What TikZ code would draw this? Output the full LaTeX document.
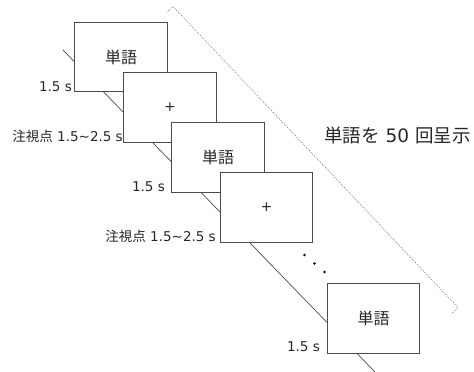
\documentclass[tikz,border=0pt]{standalone}
\usepackage{fontspec}
\setmainfont{DejaVu Sans}
\newfontfamily\jpfont{Noto Sans CJK JP}
\begin{document}
\begin{tikzpicture}[x=1pt,y=-1pt,
  frame/.style={draw=black!70, line width=0.8pt, fill=white,
    minimum width=92.5pt, minimum height=69.5pt, inner sep=0pt},
  word/.style={font=\jpfont\fontsize{16}{16}\selectfont, text=black!85},
  plussign/.style={font=\fontsize{14}{14}\selectfont, text=black!85},
  tlabel/.style={anchor=base east, inner sep=0pt,
    font=\fontsize{13.5}{14}\selectfont, text=black!85},
  timeline/.style={draw=black!70, line width=0.7pt},
  bracket/.style={draw=black!55, line width=0.6pt, dash pattern=on 1pt off 1.3pt},
  dot/.style={circle, fill=black, inner sep=0pt, minimum size=2.8pt},
  bigtext/.style={font=\fontsize{18.5}{19}\selectfont, text=black!85, inner sep=0pt}]
\useasboundingbox (0,0) rectangle (474,372);
% timeline behind the frames
\coordinate (t0) at (63,50);
\coordinate (t1) at (375,372);
\draw[timeline] (t0) -- (t1);
% frames
\node[frame, word] (b1) at (121,57) {単語};
\node[frame, plussign] (b2) at (170,107.5) {+};
\node[frame, word] (b3) at (218,157.5) {単語};
\node[frame, plussign] (b4) at (266.5,207.5) {+};
\node[frame, word] (b5) at (373.5,318.5) {単語};
% duration labels
\node[tlabel] (l1) at (72,91.5) {1.5 s};
\node[tlabel] (l2) at (123,141.5) {{\jpfont 注視点} 1.5\textasciitilde 2.5 s};
\node[tlabel] (l3) at (165,191.5) {1.5 s};
\node[tlabel] (l4) at (216,241.5) {{\jpfont 注視点} 1.5\textasciitilde 2.5 s};
\node[tlabel] (l5) at (320,351.5) {1.5 s};
% ellipsis dots
\node[dot] (d1) at (304.5,255) {};
\node[dot] (d2) at (314.5,263.5) {};
\node[dot] (d3) at (324.5,272) {};
% dotted bracket
\coordinate (r1) at (166.5,12.5);
\coordinate (r2) at (173,6.5);
\coordinate (r3) at (458,307.5);
\coordinate (r4) at (451.5,313.5);
\draw[bracket] (r1) -- (r2) -- (r3) -- (r4);
% repetition label
\node[bigtext] (rep) at (397.5,135) {{\jpfont 単語を} 50 {\jpfont 回呈示}};
\end{tikzpicture}
\end{document}
